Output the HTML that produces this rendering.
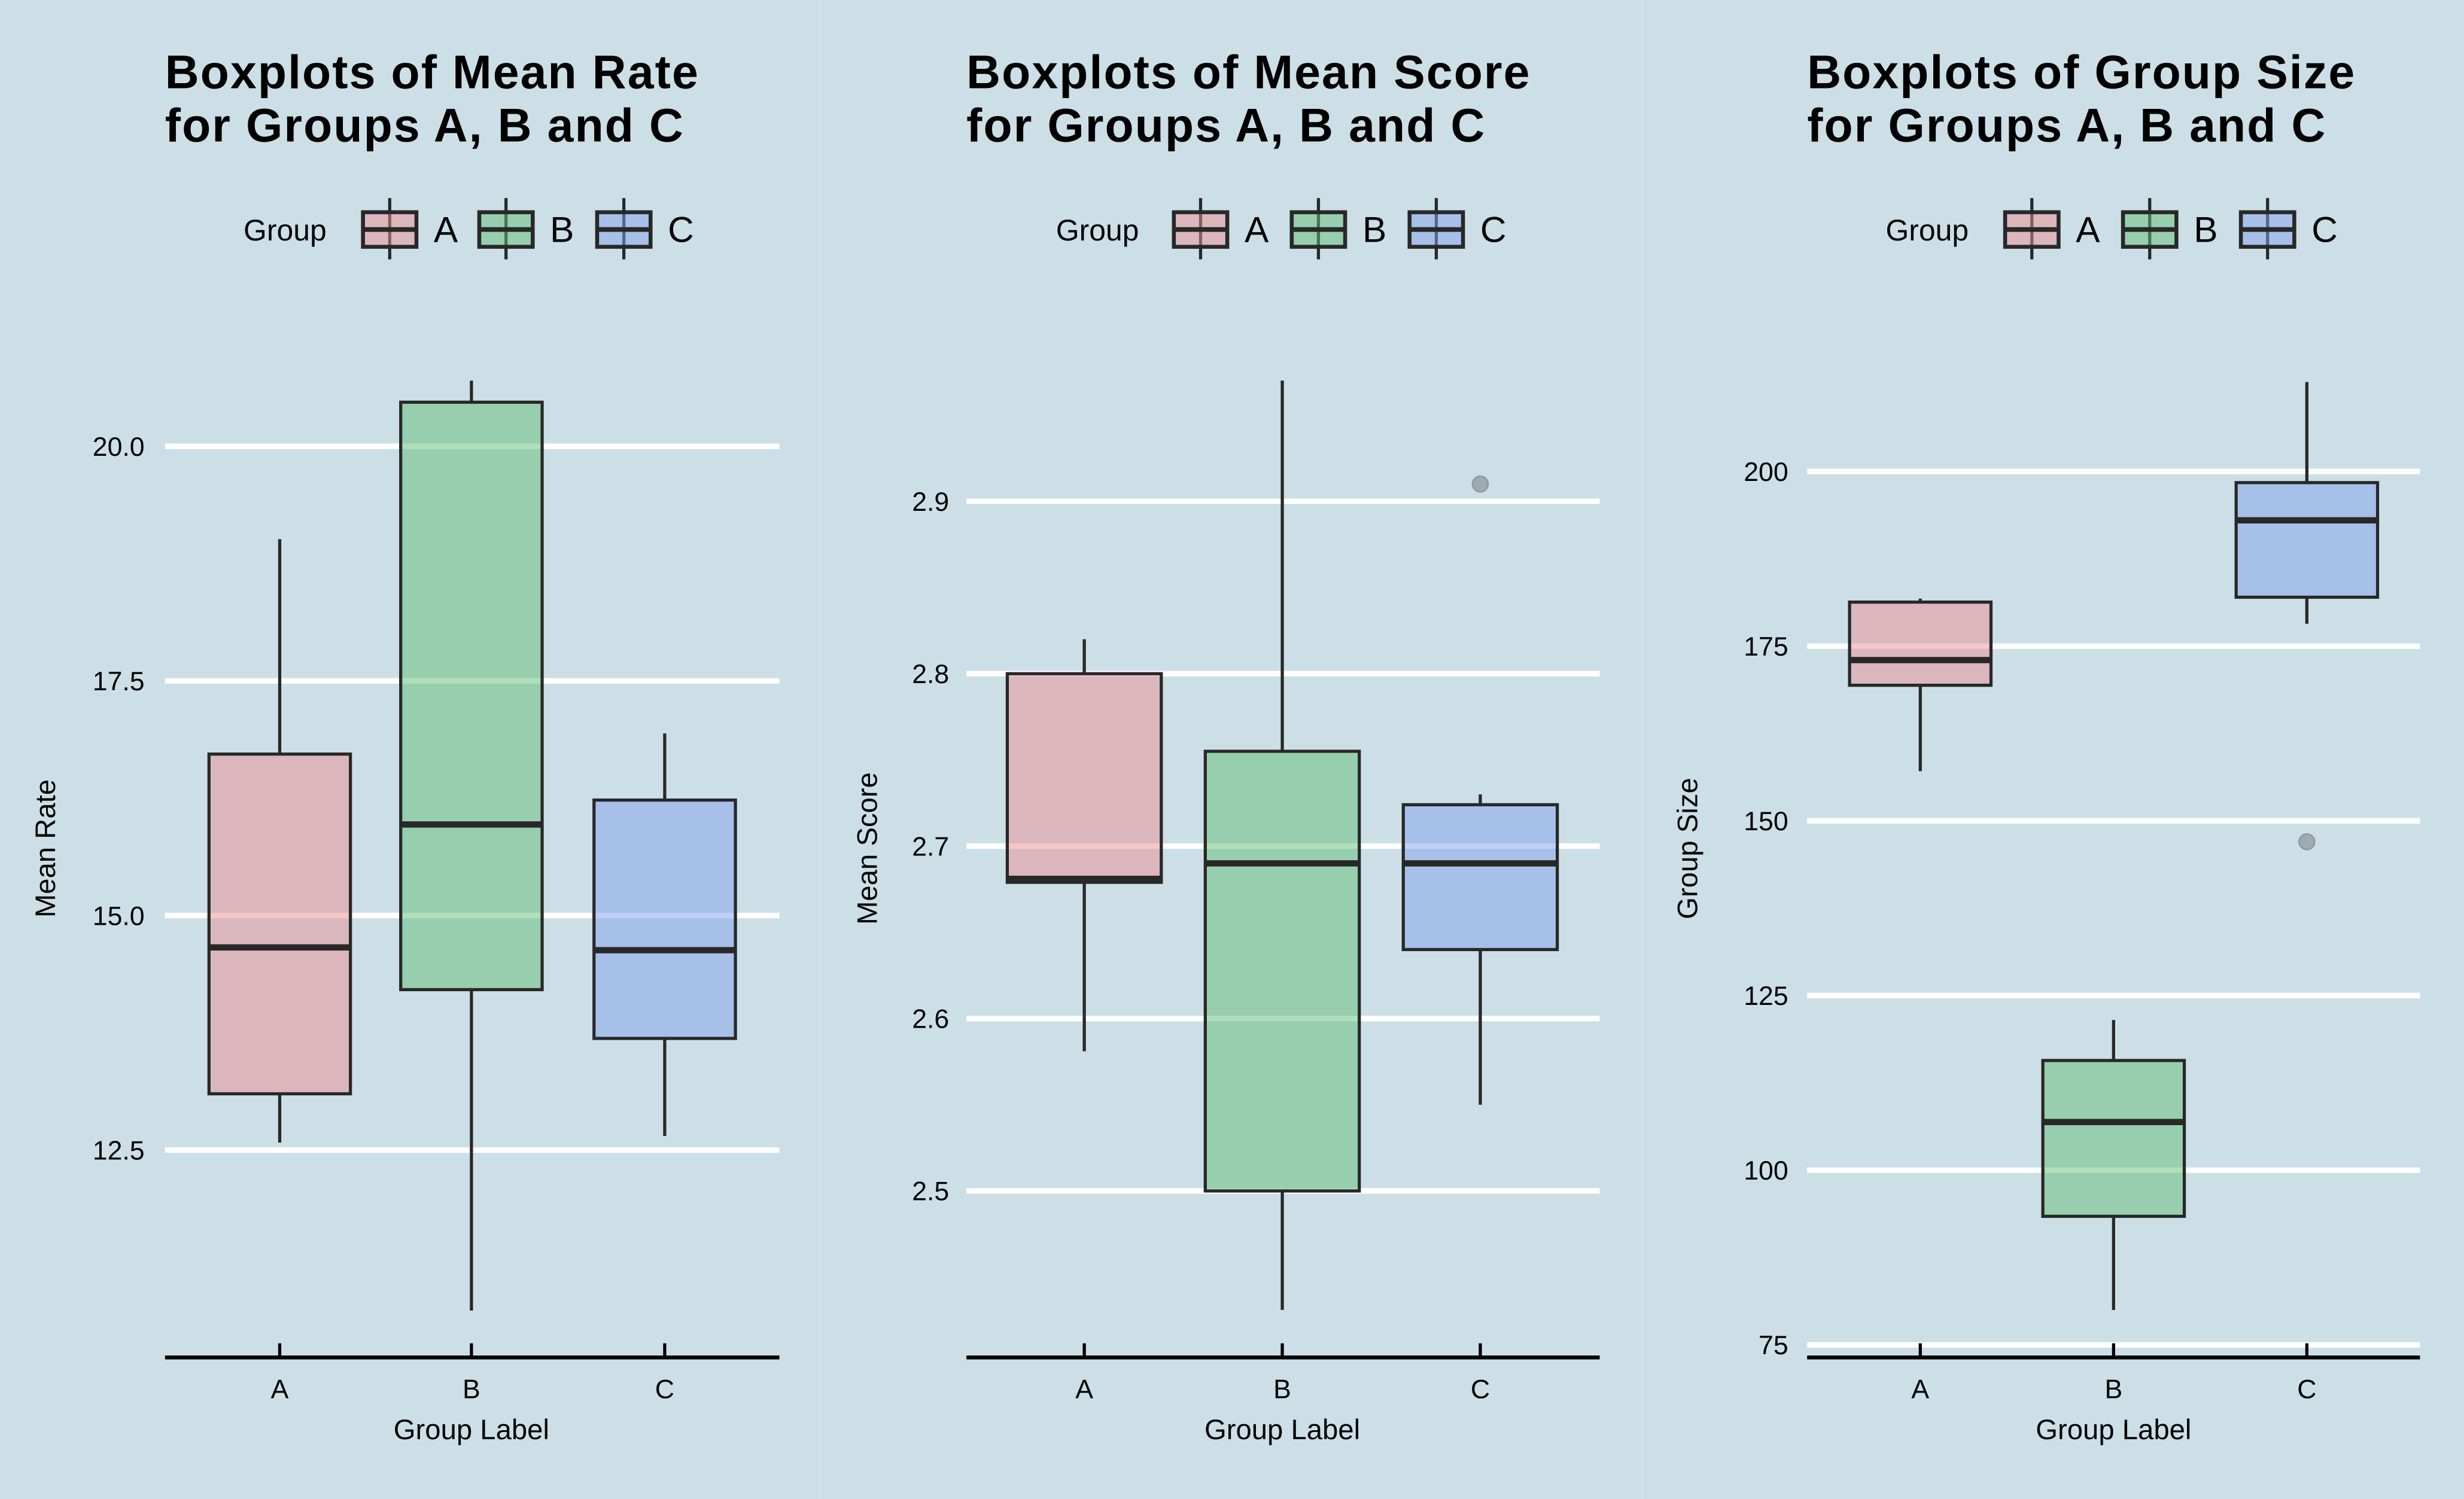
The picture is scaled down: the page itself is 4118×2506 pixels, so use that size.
<!DOCTYPE html>
<html><head><meta charset="utf-8"><style>
html,body{margin:0;padding:0;background:#cddfe6;}
svg{display:block;font-family:"Liberation Sans",Arial,sans-serif;}
</style></head><body>
<svg id="chart" width="4118" height="2506" viewBox="0 0 1568 954" xmlns="http://www.w3.org/2000/svg">
<rect x="0" y="0" width="1568" height="954" fill="#cddfe6"/>
<line x1="522" y1="0" x2="522" y2="954" stroke="#d6e6ec" stroke-width="1"/>
<line x1="1045" y1="0" x2="1045" y2="954" stroke="#d6e6ec" stroke-width="1"/>
</svg>
<script>
const categories = ["A","B","C"];
// panel 1: Mean Rate  [low, q1, median, q3, high]
const rateStats = [[12.58,13.10,14.66,16.72,19.01],[10.79,14.21,15.97,20.47,20.70],[12.65,13.69,14.63,16.23,16.94]];
const rateOutliers = [[],[],[]];
const rateTicks = [12.5,15.0,17.5,20.0];
const rateTickLabels = ["12.5","15.0","17.5","20.0"];
// panel 2: Mean Score
const scoreStats = [[2.581,2.679,2.681,2.800,2.820],[2.431,2.500,2.690,2.755,2.970],[2.550,2.640,2.690,2.724,2.730]];
const scoreOutliers = [[],[],[2.91]];
const scoreTicks = [2.5,2.6,2.7,2.8,2.9];
const scoreTickLabels = ["2.5","2.6","2.7","2.8","2.9"];
// panel 3: Group Size
const sizeStats = [[157.1,169.4,173.0,181.3,181.8],[80.0,93.4,106.9,115.7,121.5],[178.2,182.0,193.0,198.4,212.8]];
const sizeOutliers = [[],[],[147]];
const sizeTicks = [75,100,125,150,175,200];
const sizeTickLabels = ["75","100","125","150","175","200"];

const fills = ["#e98f94","#61bf76","#7fa1ee"];
const NS = "http://www.w3.org/2000/svg";
const svg = document.getElementById("chart");
function mk(tag, attrs, parent, text){
  const e = document.createElementNS(NS, tag);
  for (const k in attrs) e.setAttribute(k, attrs[k]);
  if (text !== undefined) e.textContent = text;
  (parent||svg).appendChild(e);
  return e;
}
const panels = [
  {key:"rate", title:["Boxplots of Mean Rate","for Groups A, B and C"], ylab:"Mean Rate", x0:105, x1:496, xc:[178,300,423], v0:12.5, y0:732, v1:20.0, y1:284, ylabX:35, tickX:92, legX:155, keyX:[231,305,380], bw:90, stats:rateStats, out:rateOutliers, ticks:rateTicks, tl:rateTickLabels},
  {key:"score", title:["Boxplots of Mean Score","for Groups A, B and C"], ylab:"Mean Score", x0:615, x1:1018, xc:[690,816,942], v0:2.5, y0:758, v1:2.9, y1:319, ylabX:558, tickX:604, legX:672, keyX:[747,822,897], bw:98, stats:scoreStats, out:scoreOutliers, ticks:scoreTicks, tl:scoreTickLabels},
  {key:"size", title:["Boxplots of Group Size","for Groups A, B and C"], ylab:"Group Size", x0:1150, x1:1540, xc:[1222,1345,1468], v0:75, y0:856, v1:200, y1:300, ylabX:1080, tickX:1138, legX:1200, keyX:[1276,1351,1426], bw:90, stats:sizeStats, out:sizeOutliers, ticks:sizeTicks, tl:sizeTickLabels}
];
panels.forEach(p => {
  const g = mk("g", {});
  
  
  const y = v => p.y0 + (v - p.v0) * (p.y1 - p.y0) / (p.v1 - p.v0);
  const t = mk("text", {x:p.x0, y:56, "font-size":30, "font-weight":"bold", "letter-spacing":0.8, fill:"#000"}, g);
  
  
  mk("tspan", {x:p.x0, y:56}, t, p.title[0]);
  mk("tspan", {x:p.x0, y:90}, t, p.title[1]);
  // legend
  const lg = mk("g", {}, g);
  
  
  mk("text", {x:p.legX, y:153, "font-size":19, fill:"#000"}, lg, "Group");
  categories.forEach((c,i) => {
    const kx = p.keyX[i];
    const k = mk("g", {}, lg);
    
    
    mk("line", {x1:kx+17, y1:126, x2:kx+17, y2:165, stroke:"#282828", "stroke-width":2}, k);
    mk("rect", {x:kx, y:135, width:34, height:22, fill:fills[i], "fill-opacity":0.5, stroke:"#282828", "stroke-width":2.5}, k);
    mk("line", {x1:kx, y1:146, x2:kx+34, y2:146, stroke:"#282828", "stroke-width":3}, k);
    mk("text", {x:kx+45, y:154, "font-size":23, fill:"#000"}, k, c);
  });
  // gridlines & y ticks
  p.ticks.forEach((v,i) => {
    const gl = mk("line", {x1:p.x0, y1:y(v), x2:p.x1, y2:y(v), stroke:"#ffffff", "stroke-width":3.5}, g);
    
    
    const tl = mk("text", {x:p.tickX, y:y(v)+6, "font-size":17, "text-anchor":"end", fill:"#000"}, g, p.tl[i]);
    
    
  });
  const yl = mk("text", {x:p.ylabX, y:540, "font-size":18, "text-anchor":"middle", fill:"#000", transform:`rotate(-90 ${p.ylabX} 540)`}, g, p.ylab);
  
  
  // boxes
  categories.forEach((c,i) => {
    const s = p.stats[i], cx = p.xc[i], hw = p.bw/2;
    const b = mk("g", {}, g);
    
    
    mk("line", {x1:cx, y1:y(s[0]), x2:cx, y2:y(s[1]), stroke:"#282828", "stroke-width":2}, b);
    mk("line", {x1:cx, y1:y(s[3]), x2:cx, y2:y(s[4]), stroke:"#282828", "stroke-width":2}, b);
    mk("rect", {x:cx-hw, y:y(s[3]), width:p.bw, height:y(s[1])-y(s[3]), fill:fills[i], "fill-opacity":0.5, stroke:"#282828", "stroke-width":2}, b);
    mk("line", {x1:cx-hw, y1:y(s[2]), x2:cx+hw, y2:y(s[2]), stroke:"#282828", "stroke-width":4}, b);
    p.out[i].forEach(o => {
      const pt = mk("circle", {cx:cx, cy:y(o), r:5, fill:"#7f8a8f", "fill-opacity":0.6, stroke:"#7f8a8f", "stroke-opacity":0.7, "stroke-width":1}, b);
      
      
    });
  });
  // x axis
  const ax = mk("line", {x1:p.x0, y1:864, x2:p.x1, y2:864, stroke:"#000", "stroke-width":2.5}, g);
  
  
  categories.forEach((c,i) => {
    mk("line", {x1:p.xc[i], y1:855, x2:p.xc[i], y2:864, stroke:"#000", "stroke-width":2}, g);
    const xt = mk("text", {x:p.xc[i], y:890, "font-size":17, "text-anchor":"middle", fill:"#000"}, g, c);
    
    
  });
  const xl = mk("text", {x:p.xc[1], y:916, "font-size":18, "text-anchor":"middle", fill:"#000"}, g, "Group Label");
  
  
});
</script>
</body></html>
